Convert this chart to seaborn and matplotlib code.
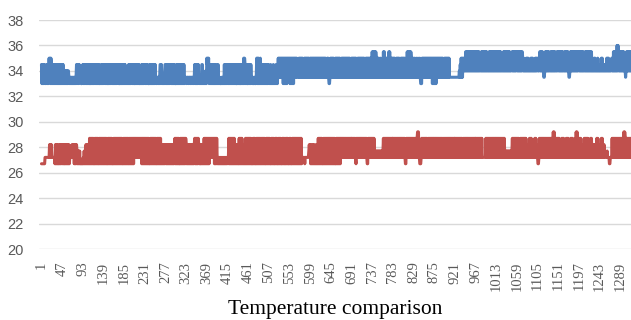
import pandas as pd
import matplotlib
matplotlib.use("Agg")
import matplotlib.pyplot as plt
import seaborn as sns

# Readings are stepped, so each sample is stored as a level digit
# blue: 33.0 + 0.5*d, red: 26.7 + 0.5*d
blue_base, blue_step = 33.0, 0.5
red_base, red_step = 26.7, 0.5

blue_levels = "".join([
    "3030303202033030343404303030203030303030303030",
    "3030202020202021010101010101010130313031110001",
    "3030313030303030003030303031303030303001030303",
    "3031303030003030313010303030303130300030303030",
    "3030101010303030313030300303030303001003030303",
    "3030313000030303030303031010110101330310101013",
    "3030303030313030303030000303030303030303030111",
    "1011101110111011101303030303101101033020101020",
    "4343403303030303030203020301010001010103030303",
    "3030303030303030303000303030003030304043030300",
    "3030303110100101001404040304030303030303030303",
    "2020302020302020302024141414141404040404041414",
    "4040404040414141411114141414141114141414141411",
    "4141414141414141414141414141414141412141410014",
    "4141414131414141414141314141414141414141414131",
    "4141414141413141414141414141413141414141414141",
    "5151515154131414131413141515141414141515141414",
    "4141411141414141114141414141114151515151541414",
    "3141314131413141000414141414141414141414140404",
    "0404041414141414141413141414141414111111111111",
    "1111111111213141414242425252525252525252525252",
    "5252525252222525252525252522325252525252525252",
    "5252525252522322525252525252525232352525252525",
    "5252525252525424232324242423232424242323242424",
    "4232352525252211252525252522252525252525222525",
    "5252525252522252525252521125252525252525252525",
    "5252525252522252525252525252523232424232324232",
    "3232424232323232424242323234242525252526265252",
    "525252525222125252525252525",
])

red_levels = "".join([
    "0000000011111111113131311111110303030003030303",
    "3030300303030303011111313130303032020202000000",
    "0102020303030304040404040004040404004040404040",
    "4040404000404040404000040404040404040404040004",
    "0404040404004040404040414141414141414140404040",
    "4040404040004040404040404004040404040303030303",
    "3030303030303030303034040404040004040404040404",
    "3030303030303030303404040404303000303030404040",
    "4040404141414141404040410101010101010101010101",
    "1014040404040404030303030040404040303030404040",
    "4040404000040404000404040404004040404000404040",
    "4040004040400040404000404040004040400040404000",
    "4040004040404040404040404040111111011111111232",
    "3030203030203020304040404040004040404040404040",
    "4040404040004040404040441414141414141414141414",
    "4141414141041414141414141414141414100414141414",
    "4141412121212121212121212414141414141414141414",
    "4141414141414141414141414141004141414141414141",
    "4141414145151100014141414141414114141414141441",
    "4141414141414141414114141414141414141414141414",
    "4141414141414141411414141414141414141414141414",
    "4141414141414141111111141414141414141414141414",
    "4141414141414141414112121212121212124141414141",
    "4141411141414141414141313131414141313131414131",
    "1001414141414141414141414141414144151514141414",
    "4141313141414131314141413131414141313141515414",
    "4141413131314141414141313141413131313131414131",
    "3131414131311111121111001111414141414141414141",
    "414141415154141414141414141",
])

tick_labels = [1, 47, 93, 139, 185, 231, 277, 323, 369, 415, 461, 507, 553,
               599, 645, 691, 737, 783, 829, 875, 921, 967, 1013, 1059, 1105,
               1151, 1197, 1243, 1289]

blue = [blue_base + blue_step * int(c) for c in blue_levels]
red = [red_base + red_step * int(c) for c in red_levels]

df = pd.concat([
    pd.DataFrame({"sample": range(1, len(blue) + 1), "temp": blue, "series": "blue"}),
    pd.DataFrame({"sample": range(1, len(red) + 1), "temp": red, "series": "red"}),
])

sns.set_style("white")

fig = plt.figure(figsize=(6.31, 3.2), dpi=100)
ax = fig.add_axes([39 / 631, 71 / 320, 592 / 631, 229 / 320])

sns.lineplot(data=df, x="sample", y="temp", hue="series",
             palette={"blue": "#4f81bd", "red": "#c0504d"},
             estimator=None, sort=False, linewidth=2.2, legend=False, ax=ax)

ax.set_xlim(-4.5, 1313)
ax.set_ylim(20, 38)
ax.set_yticks(range(20, 39, 2))
ax.yaxis.grid(True, color="#d9d9d9", linewidth=1)
ax.set_axisbelow(True)
for s in ax.spines.values():
    s.set_visible(False)

ax.set_xticks(tick_labels)
ax.set_xticklabels([str(t) for t in tick_labels], rotation=90,
                   family="Liberation Serif", fontsize=10.5, color="#595959")
for lbl in ax.get_yticklabels():
    lbl.set_family("Liberation Sans")
ax.tick_params(axis="y", length=0, pad=11, labelsize=10.5, labelcolor="#595959")
ax.tick_params(axis="x", length=0, pad=9)
ax.set_xlabel("")
ax.set_ylabel("")

fig.text(0.531, 0.018, "Temperature comparison", ha="center", va="baseline",
         fontsize=15.5, family="Liberation Serif", color="black")

plt.savefig("out.png", dpi=100)
